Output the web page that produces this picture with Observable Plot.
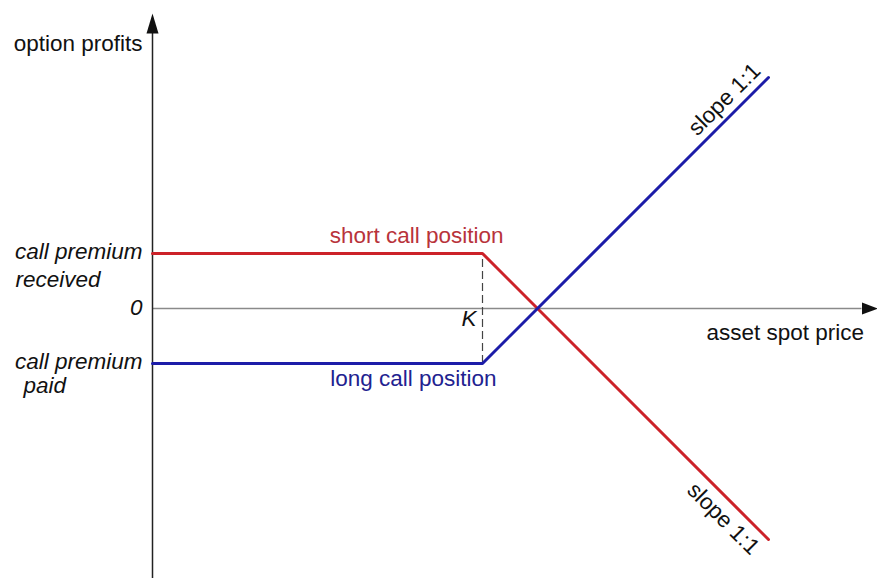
<!DOCTYPE html>
<html>
<head>
<meta charset="utf-8">
<script src="https://cdn.jsdelivr.net/npm/d3@7"></script>
<script src="https://cdn.jsdelivr.net/npm/@observablehq/plot@0.6"></script>
<style>
  html, body { margin: 0; padding: 0; background: #fff; }
  #chart svg { display: block; }
</style>
</head>
<body>
<div id="chart"></div>
<script>
// Payoff at expiry of a long and a short call, in units of the premium.
const premium = 1;
const strike = 6;
const spot = [0, strike, 11.2];
const shortCall = [premium, premium, -4.2];
const longCall = [-premium, -premium, 4.2];

// Axis extents (same units as the payoffs).
const xAxisEnd = 12.9;
const yAxisTop = 5;
const yAxisBottom = -4.91;

// Where the slope annotations sit along the diagonals.
const slopeLabelSpot = 10.6;

const red = "#cc2229";
const blue = "#1c1ca8";
const font = "'Liberation Sans', Arial, Helvetica, sans-serif";
const fs = 22.5;

const toRows = (ys) => spot.map((x, i) => ({x, y: ys[i]}));
const shortRows = toRows(shortCall);
const longRows = toRows(longCall);

const longPayoff = (s) => Math.max(s - strike, 0) - premium;
const shortPayoff = (s) => premium - Math.max(s - strike, 0);

const unit = 55; // pixels per premium unit on both axes (slope 1:1)
const W = 877, H = 578, originX = 152, originY = 308;

const chart = Plot.plot({
  width: W,
  height: H,
  margin: 0,
  style: {background: "#fff", fontFamily: font},
  x: {domain: [0, (W - originX) / unit], range: [originX, W], axis: null},
  y: {domain: [-(H - originY) / unit, originY / unit], range: [H, 0], axis: null},
  marks: [
    // x axis with arrowhead
    Plot.ruleY([0], {x1: 0, x2: xAxisEnd, stroke: "#8a8a8a", strokeWidth: 1.5}),
    Plot.vector([0], {x: xAxisEnd, y: 0, rotate: 90, length: 16, r: 6, shape: "spike", anchor: "start", fill: "#111", stroke: "none"}),
    // y axis with arrowhead
    Plot.ruleX([0], {y1: yAxisBottom, y2: yAxisTop, stroke: "#222", strokeWidth: 1.5}),
    Plot.vector([0], {x: 0, y: yAxisTop, rotate: 0, length: 20, r: 6, shape: "spike", anchor: "start", fill: "#111", stroke: "none"}),
    // strike marker
    Plot.ruleX([strike], {y1: -premium, y2: premium, stroke: "#444", strokeWidth: 1.2, strokeDasharray: "8,4"}),
    // payoff lines
    Plot.line(shortRows, {x: "x", y: "y", stroke: red, strokeWidth: 3}),
    Plot.line(longRows, {x: "x", y: "y", stroke: blue, strokeWidth: 3}),

    // axis titles
    Plot.text(["option profits"], {x: 0, y: yAxisTop, dx: -10, dy: 17, textAnchor: "end", lineAnchor: "bottom", fontSize: fs, fill: "#111"}),
    Plot.text(["asset spot price"], {x: xAxisEnd, y: 0, dx: 2, dy: 31, textAnchor: "end", lineAnchor: "bottom", fontSize: fs, fill: "#111"}),

    // y-axis level labels
    Plot.text(["call premium"], {x: 0, y: premium, dx: -10, dy: 5, textAnchor: "end", lineAnchor: "bottom", fontSize: fs, fontStyle: "italic", fill: "#111"}),
    Plot.text(["received"], {x: 0, y: premium, dx: -137, dy: 33, textAnchor: "start", lineAnchor: "bottom", fontSize: fs, fontStyle: "italic", fill: "#111"}),
    Plot.text(["0"], {x: 0, y: 0, dx: -10, dy: 6, textAnchor: "end", lineAnchor: "bottom", fontSize: fs, fontStyle: "italic", fill: "#111"}),
    Plot.text(["call premium"], {x: 0, y: -premium, dx: -10, dy: 5, textAnchor: "end", lineAnchor: "bottom", fontSize: fs, fontStyle: "italic", fill: "#111"}),
    Plot.text(["paid"], {x: 0, y: -premium, dx: -129, dy: 29, textAnchor: "start", lineAnchor: "bottom", fontSize: fs, fontStyle: "italic", fill: "#111"}),

    // strike label
    Plot.text(["K"], {x: strike, y: 0, dx: -6, dy: 17, textAnchor: "end", lineAnchor: "bottom", fontSize: fs, fontStyle: "italic", fill: "#111"}),

    // series labels
    Plot.text(["short call position"], {x: strike, y: premium, dx: 21, dy: -11, textAnchor: "end", lineAnchor: "bottom", fontSize: fs, fill: "#b8333b"}),
    Plot.text(["long call position"], {x: strike, y: -premium, dx: 14, dy: 22, textAnchor: "end", lineAnchor: "bottom", fontSize: fs, fill: "#222290"}),

    // slope annotations along the diagonals
    Plot.text(["slope 1:1"], {x: slopeLabelSpot, y: longPayoff(slopeLabelSpot), rotate: -45, dx: -6, dy: -6, textAnchor: "middle", lineAnchor: "bottom", fontSize: fs, fill: "#111"}),
    Plot.text(["slope 1:1"], {x: slopeLabelSpot, y: shortPayoff(slopeLabelSpot), rotate: 45, dx: -6, dy: 6, textAnchor: "middle", lineAnchor: "top", fontSize: fs, fill: "#111"})
  ]
});

document.getElementById("chart").append(chart);
</script>
</body>
</html>
